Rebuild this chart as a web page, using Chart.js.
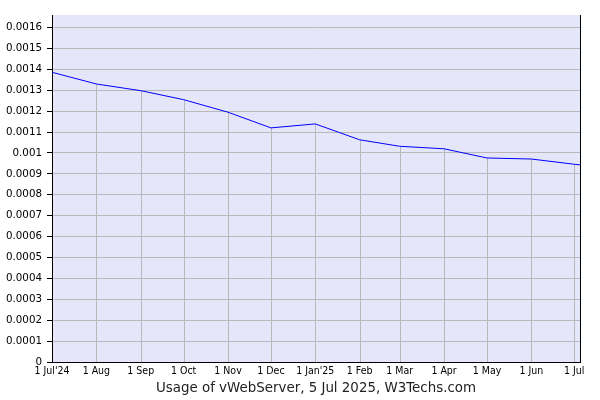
<!DOCTYPE html>
<html><head><meta charset="utf-8">
<script src="https://cdn.jsdelivr.net/npm/chart.js@4/dist/chart.umd.min.js"></script>
<style>html,body{margin:0;padding:0;background:#fff}#wrap{width:600px;height:400px}</style>
</head><body><div id="wrap"><canvas id="c" width="600" height="400"></canvas></div>
<script>
const dates = ['2024-07-01','2024-08-01','2024-09-01','2024-10-01','2024-11-01','2024-12-01','2025-01-01','2025-02-01','2025-03-01','2025-04-01','2025-05-01','2025-06-01','2025-07-01','2025-07-05'];
const usage = [0.001386,0.00133,0.001298,0.001255,0.001195,0.00112,0.001139,0.001063,0.001032,0.001020,0.000976,0.000971,0.000946,0.000943];
const tickDates = ['2024-07-01','2024-08-01','2024-09-01','2024-10-01','2024-11-01','2024-12-01','2025-01-01','2025-02-01','2025-03-01','2025-04-01','2025-05-01','2025-06-01','2025-07-01'];
const tickLabels = ["1 Jul'24","1 Aug","1 Sep","1 Oct","1 Nov","1 Dec","1 Jan'25","1 Feb","1 Mar","1 Apr","1 May","1 Jun","1 Jul"];
const yTicks = [0,0.0001,0.0002,0.0003,0.0004,0.0005,0.0006,0.0007,0.0008,0.0009,0.001,0.0011,0.0012,0.0013,0.0014,0.0015,0.0016];
const yMax = 0.00166;
const endDate = '2025-07-05';
const titleText = 'Usage of vWebServer, 5 Jul 2025, W3Techs.com';

const t0 = Date.UTC(2024,6,1);
function dayOf(s){const p=s.split('-').map(Number);return (Date.UTC(p[0],p[1]-1,p[2])-t0)/86400000;}
const points = dates.map((d,i)=>({x:dayOf(d), y:usage[i]}));
const tickDays = tickDates.map(dayOf);

const decor = {
  id:'decor',
  beforeDraw(chart){
    const {ctx, chartArea:a} = chart;
    ctx.save();
    ctx.fillStyle = '#e6e6fa';
    ctx.fillRect(a.left, a.top, a.right-a.left, a.bottom-a.top);
    ctx.restore();
  },
  beforeDatasetsDraw(chart){
    const {ctx, chartArea:a} = chart;
    const xs = chart.scales.x, ys = chart.scales.y;
    ctx.save();
    ctx.strokeStyle = '#b9b9b9';
    ctx.lineWidth = 1;
    points.forEach(p=>{
      if (p.x <= 0 || p.x >= xs.max) return;
      const px = Math.round(xs.getPixelForValue(p.x)) + 0.5;
      ctx.beginPath();
      ctx.moveTo(px, ys.getPixelForValue(p.y));
      ctx.lineTo(px, a.bottom);
      ctx.stroke();
    });
    ctx.strokeStyle = '#000';
    ctx.beginPath();
    const rx = Math.round(a.right) + 0.5;
    ctx.moveTo(rx, a.top);
    ctx.lineTo(rx, a.bottom);
    ctx.stroke();
    ctx.restore();
  }
};

new Chart(document.getElementById('c'), {
  type:'line',
  data:{datasets:[{data:points, borderColor:'#0000ff', borderWidth:1, pointRadius:0, tension:0, fill:false}]},
  options:{
    responsive:false, animation:false, devicePixelRatio:1,
    layout:{padding:{top:15,right:20,left:0,bottom:0}},
    plugins:{legend:{display:false}, tooltip:{enabled:false}},
    scales:{
      x:{type:'linear', min:0, max:dayOf(endDate),
        afterBuildTicks(s){s.ticks = tickDays.map(v=>({value:v}));},
        afterFit(s){s.height = 38;},
        grid:{display:false, drawTicks:false, tickLength:0},
        border:{display:true, color:'#000', width:1},
        ticks:{autoSkip:false, maxRotation:0, padding:3, color:'#000',
          font:{family:'"DejaVu Sans Condensed", "DejaVu Sans"', size:10.5},
          callback:(v,i)=>tickLabels[i]},
        title:{display:true, text:titleText, color:'#222', font:{family:'"DejaVu Sans"', size:13.4}, padding:{top:0,bottom:3}}
      },
      y:{min:0, max:yMax,
        afterBuildTicks(s){s.ticks = yTicks.map(v=>({value:v}));},
        afterFit(s){s.width = 52;},
        grid:{color:'#b9b9b9', lineWidth:1, tickColor:'#000', tickLength:5},
        border:{display:true, color:'#000', width:1},
        ticks:{padding:5, color:'#000', font:{family:'"DejaVu Sans"', size:10.3},
          callback:v=>String(parseFloat(v.toFixed(4)))}
      }
    }
  },
  plugins:[decor]
});
</script></body></html>
